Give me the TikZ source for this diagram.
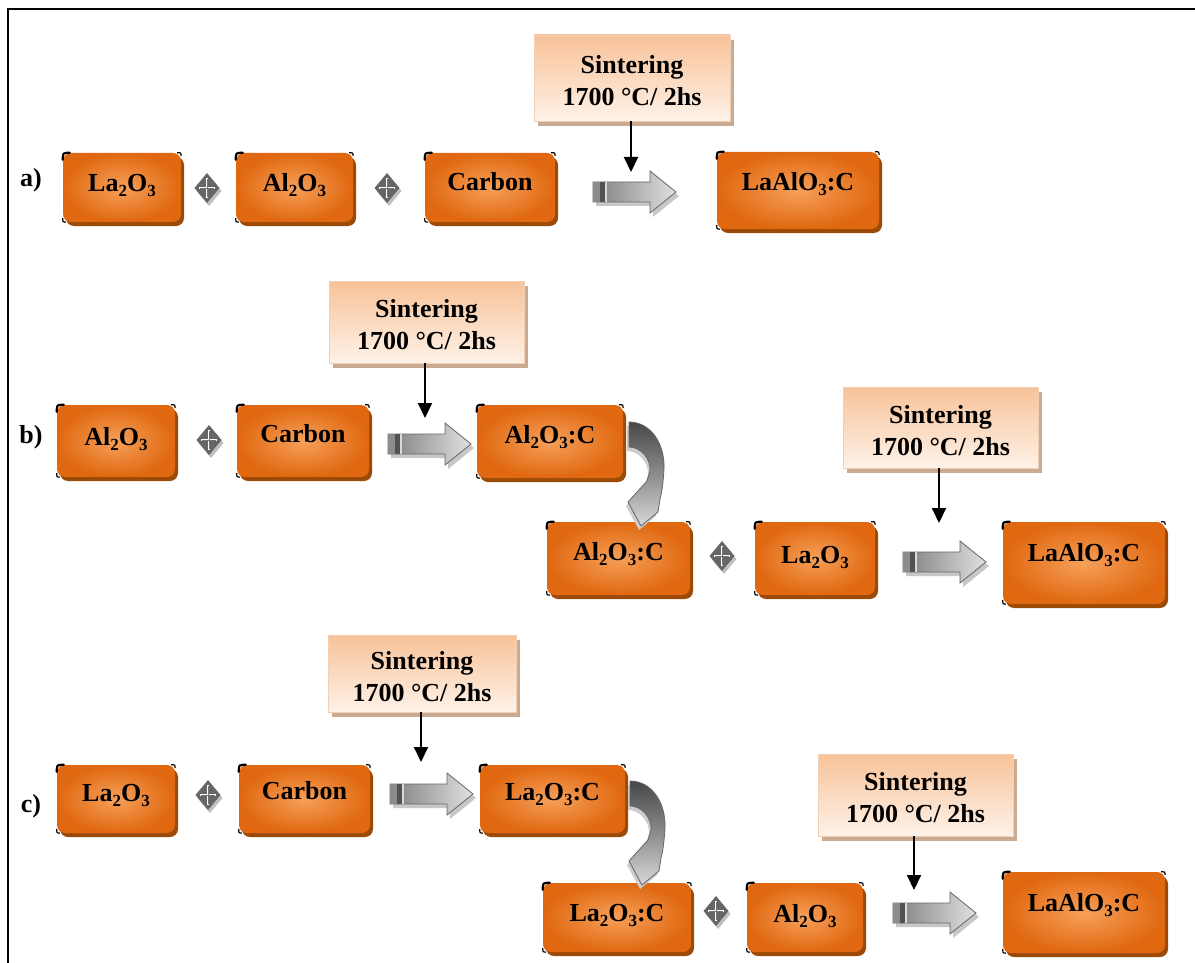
\documentclass[tikz,border=0pt]{standalone}
\usepackage{fontspec}
\setmainfont{Liberation Serif}
\usetikzlibrary{shadows,arrows.meta}
\definecolor{ocenter}{RGB}{246,160,90}
\definecolor{oedge}{RGB}{224,104,16}
\definecolor{oshadow}{RGB}{156,74,8}
\definecolor{stopc}{RGB}{248,194,152}
\definecolor{sbotc}{RGB}{254,242,232}
\definecolor{sshadow}{RGB}{202,170,144}
\definecolor{sborder}{RGB}{242,208,182}
\newcommand\sbs[1]{\raisebox{-5pt}{\fontsize{17}{17}\selectfont #1}}
\def\carrowpath{(0,0) .. controls (22,0) and (36,22) .. (35,47) .. controls (34,62) and (33,70) .. (31,77) -- (29,90) -- (12,104) -- (-1,80) -- (18,59) -- (21,49) .. controls (22,37) and (12,25) .. (0,25) -- cycle}
\def\barrowpath{(0,-10) -- (57,-10) -- (57,-21) -- (83,0) -- (57,21) -- (57,10) -- (0,10) -- cycle}
\tikzset{
 txt/.style={font=\fontsize{26}{32}\selectfont\bfseries},
 obox/.style={txt, rounded corners=8pt, inner color=ocenter, outer color=oedge, inner sep=0pt, text height=18pt,
   drop shadow={shadow xshift=3pt, shadow yshift=-4pt, fill=oshadow, opacity=1}},
 sbox/.style={txt, align=center, top color=stopc, bottom color=sbotc, draw=sborder, line width=0.8pt, inner sep=0pt,
   drop shadow={shadow xshift=4pt, shadow yshift=-5pt, fill=sshadow, opacity=1}},
 karrow/.style={line width=2pt, -{Triangle[width=14pt,length=15pt]}},
 plussym/.pic={
   \fill[black!25] (2,-12) -- (14.5,3) -- (2,18) -- (-10.5,3) -- cycle;
   \fill[black!60] (0,-15) -- (12.5,0) -- (0,15) -- (-12.5,0) -- cycle;
   \draw[white, line width=2.4pt] (0,-10) -- (0,10) (-8,0) -- (8,0);
   \draw[black!55, line width=0.7pt] (0,-9) -- (0,9) (-7,0) -- (7,0);
 },
 barrow/.pic={
   \fill[black!22, shift={(3,4)}] \barrowpath;
   \path[left color=black!50, right color=black!12, draw=black!60, line width=0.8pt] \barrowpath;
   \fill[black!45] (0,-10) rectangle (7,10);
   \fill[black!68] (7,-10) rectangle (12,10);
   \fill[black!15] (12,-10) rectangle (14,10);
 },
 carrow/.pic={
   \fill[black!20, shift={(-2,4)}] \carrowpath;
   \path[top color=black!72, bottom color=black!15, middle color=black!45, draw=black!60, line width=0.8pt, line join=round] \carrowpath;
 },
}
% name, x1, y1, x2, y2, text, text offset (top to text middle)
\newcommand\obx[7]{%
 \pgfmathsetmacro\myW{#4-#2}\pgfmathsetmacro\myH{#5-#3}\pgfmathsetmacro\myD{(#5-#3)-2*(#7)}%
 \node[obox, minimum width=\myW pt, minimum height=\myH pt, text depth=\myD pt] (#1) at ({(#2+#4)/2},{(#3+#5)/2}) {#6};
 \draw[line width=2.2pt, line cap=round] ([yshift=-7pt]#1.north west) .. controls (#1.north west) .. ([xshift=7pt]#1.north west);
 \draw[line width=1.2pt] ([xshift=-4pt]#1.north east) .. controls (#1.north east) .. ([yshift=-3pt]#1.north east);
 \draw[line width=1.2pt] ([yshift=4pt]#1.south west) .. controls (#1.south west) .. ([xshift=3pt]#1.south west);
}
\newcommand\sbx[5]{%
 \pgfmathsetmacro\myW{#4-#2}\pgfmathsetmacro\myH{#5-#3}%
 \node[sbox, minimum width=\myW pt, minimum height=\myH pt] (#1) at ({(#2+#4)/2},{(#3+#5)/2}) {\rule{0pt}{24pt}Sintering\\1700 °C/ 2hs};
}
\begin{document}
\begin{tikzpicture}[x=1pt,y=-1pt]
\useasboundingbox (0,0) rectangle (1195,963);
\draw[line width=2.5pt] (8,963) -- (8,9) -- (1195,9);
% row a
\node[txt] (la) at (31,180) {a)};
\obx{a1}{63}{153}{181}{222}{La\sbs{2}O\sbs{3}}{30}
\obx{a2}{236}{153}{353}{222}{Al\sbs{2}O\sbs{3}}{30}
\obx{a3}{425}{153}{555}{222}{Carbon}{28}
\obx{a4}{717}{152}{879}{229}{LaAlO\sbs{3}:C}{30}
\pic (pa1) at (207,188) {plussym};
\pic (pa2) at (387,188) {plussym};
\pic (ba1) at (593,192) {barrow};
\sbx{sa}{534}{35}{730}{121}
\coordinate (ta) at (631,172);
\draw[karrow] (sa.south -| ta) -- (ta);
% row b
\node[txt] (lb) at (31,437) {b)};
\obx{b1}{57}{405}{175}{477}{Al\sbs{2}O\sbs{3}}{31}
\obx{b2}{237}{405}{369}{477}{Carbon}{28}
\obx{b3}{477}{405}{623}{478}{Al\sbs{2}O\sbs{3}:C}{29}
\obx{b4}{547}{522}{690}{595}{Al\sbs{2}O\sbs{3}:C}{29}
\obx{b5}{755}{522}{875}{595}{La\sbs{2}O\sbs{3}}{32}
\obx{b6}{1003}{522}{1165}{604}{LaAlO\sbs{3}:C}{30}
\pic (pb1) at (209,440) {plussym};
\pic (pb2) at (722,556) {plussym};
\pic (bb1) at (388,444) {barrow};
\pic (bb2) at (903,562) {barrow};
\pic (cb) at (629,422) {carrow};
\sbx{sb1}{329}{281}{524}{363}
\sbx{sb2}{843}{387}{1038}{468}
\coordinate (tb1) at (425,418);
\coordinate (tb2) at (939,523);
\draw[karrow] (sb1.south -| tb1) -- (tb1);
\draw[karrow] (sb2.south -| tb2) -- (tb2);
% row c
\node[txt] (lc) at (31,806) {c)};
\obx{c1}{57}{765}{175}{833}{La\sbs{2}O\sbs{3}}{27}
\obx{c2}{239}{765}{370}{833}{Carbon}{25}
\obx{c3}{480}{765}{625}{833}{La\sbs{2}O\sbs{3}:C}{26}
\obx{c4}{543}{883}{691}{952}{La\sbs{2}O\sbs{3}:C}{29}
\obx{c5}{747}{883}{863}{952}{Al\sbs{2}O\sbs{3}}{30}
\obx{c6}{1003}{872}{1165}{953}{LaAlO\sbs{3}:C}{30}
\pic (pc1) at (208,795) {plussym};
\pic (pc2) at (716,911) {plussym};
\pic (bc1) at (390,794) {barrow};
\pic (bc2) at (893,913) {barrow};
\pic (cc) at (630,781) {carrow};
\sbx{sc1}{328}{635}{516}{712}
\sbx{sc2}{818}{754}{1013}{836}
\coordinate (tc1) at (421,762);
\coordinate (tc2) at (914,890);
\draw[karrow] (sc1.south -| tc1) -- (tc1);
\draw[karrow] (sc2.south -| tc2) -- (tc2);
\end{tikzpicture}
\end{document}
